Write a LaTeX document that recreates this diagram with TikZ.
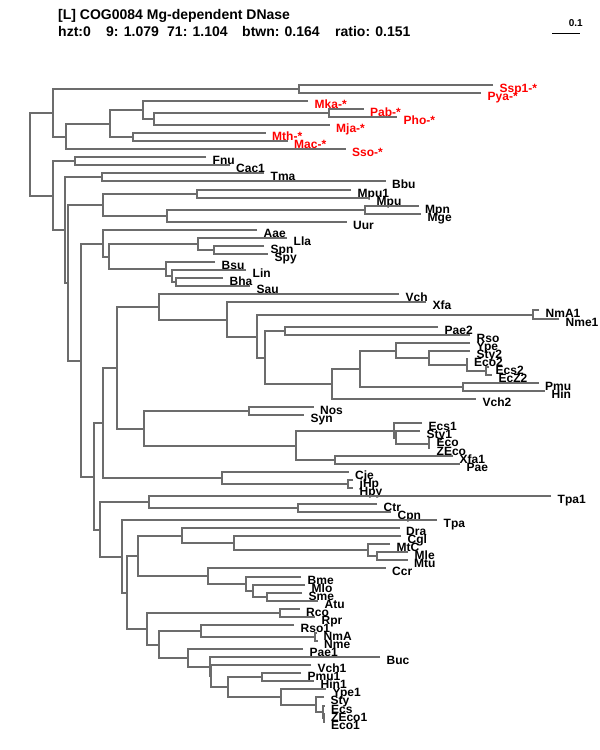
\documentclass[tikz,border=0pt]{standalone}
\usepackage{fontspec}
\setmainfont{Liberation Sans}
\usetikzlibrary{positioning, calc}
\definecolor{treegray}{HTML}{6C6C6C}
\definecolor{archred}{HTML}{FF0000}
\newcommand{\leafy}[1]{85.2+8.063*#1}
\tikzset{
  branch/.style={draw=treegray, line width=2pt},
  leaf/.style={font=\bfseries\fontsize{12}{12}\selectfont, inner sep=0pt, anchor=base west},
  archleaf/.style={leaf, text=archred},
  header/.style={font=\bfseries\fontsize{14}{16}\selectfont, inner sep=0pt, anchor=base west}
}

\begin{document}
\begin{tikzpicture}[x=1pt, y=-1pt]
  \fill[white] (0,0) rectangle (600,750);
  \useasboundingbox (0,0) rectangle (600,750);

  % header
  \node[header] (hdr) at (58,19) {[L] COG0084 Mg-dependent DNase};
  \node[header] (hzt) at (58,36) {hzt:0};
  \node[header] (s9) at (106,36) {9: 1.079};
  \node[header] (s71) at (167,36) {71: 1.104};
  \node[header] (btwn) at (242,36) {btwn: 0.164};
  \node[header] (ratio) at (335,36) {ratio: 0.151};

  % scale bar
  \coordinate (barL) at (552,33.5);
  \coordinate (barR) at (580,33.5);
  \draw[line width=1pt] (barL) -- (barR);
  \node[leaf, anchor=base east, font=\bfseries\fontsize{10}{12}\selectfont] (barlbl) at ([shift={(3,-7)}]barR) {0.1};

  % leaves: name/tip x/row/label
  \foreach \nd/\xx/\k/\txt in {ssp1/493/0/Ssp1-*, pya/481/1/Pya-*, mka/308/2/Mka-*,
      pab/363.5/3/Pab-*, pho/397/4/Pho-*, mja/329.5/5/Mja-*, mth/265.5/6/Mth-*,
      mac/287.5/7/Mac-*, sso/345.5/8/Sso-*}{
    \coordinate (\nd) at (\xx,{floor(\leafy{\k})});
    \node[archleaf] (\nd-lbl) at ([shift={(6.5,7)}]\nd) {\txt};
  }
  \foreach \nd/\xx/\k/\txt in {fnu/206/9/Fnu, cac1/229.5/10/Cac1, tma/264/11/Tma,
      bbu/385.5/12/Bbu, mpu1/351/13/Mpu1, mpu/370/14/Mpu, mpn/418.5/15/Mpn,
      mge/421/16/Mge, uur/346.5/17/Uur, aae/257/18/Aae, lla/287/19/Lla,
      spn/264/20/Spn, spy/268/21/Spy, bsu/215/22/Bsu, lin/246/23/Lin,
      bha/223/24/Bha, sau/250/25/Sau, vch/399/26/Vch, xfa/426/27/Xfa,
      nma1/539/28/NmA1, nme1/559/29/Nme1, pae2/438/30/Pae2, rso/470/31/Rso,
      ype/470/32/Ype, sty2/470/33/Sty2, eco2/467.5/34/Eco2, ecs2/489/35/Ecs2,
      ecz2/492/36/EcZ2, pmu/538.5/37/Pmu, hin/545/38/Hin, vch2/476/39/Vch2,
      nos/313.5/40/Nos, syn/304/41/Syn, ecs1/422/42/Ecs1, sty1/420/43/Sty1,
      eco/430/44/Eco, zeco/430/45/ZEco, xfa1/453/46/Xfa1, pae/460/47/Pae,
      cje/348.5/48/Cje, jhp/353/49/jHp, hpy/353/50/Hpy, tpa1/551/51/Tpa1,
      ctr/377/52/Ctr, cpn/391/53/Cpn, tpa/437/54/Tpa, dra/399.5/55/Dra,
      cgl/401/56/Cgl, mtc/390/57/MtC, mle/408/58/Mle, mtu/407.5/59/Mtu,
      ccr/385.5/60/Ccr, bme/301/61/Bme, mlo/305/62/Mlo, sme/302/63/Sme,
      atu/318/64/Atu, rco/299.5/65/Rco, rpr/315/66/Rpr, rso1/294/67/Rso1,
      nma/317/68/NmA, nme/317.5/69/Nme, pae1/303/70/Pae1, buc/380/71/Buc,
      vch1/311/72/Vch1, pmu1/301/73/Pmu1, hin1/314/74/Hin1, ype1/326/75/Ype1,
      sty/324/76/Sty, ecs/324.5/77/Ecs, zeco1/324.5/78/ZEco1, eco1/324.5/79/Eco1}{
    \coordinate (\nd) at (\xx,{floor(\leafy{\k})});
    \node[leaf] (\nd-lbl) at ([shift={(6.5,7)}]\nd) {\txt};
  }

  % inner nodes: name/x/upper child/lower child
  \foreach \nd/\xx/\ca/\cb in {nSP/299/ssp1/pya, nPP/329/pab/pho, nMj/154/nPP/mja,
      nMk/142.7/mka/nMj, nMm/132.7/mth/mac, nAr3/110/nMk/nMm, nAr2/66/nAr3/sso,
      nAr/52.7/nSP/nAr2,
      nFC/75/fnu/cac1, nTB/102/tma/bbu, nMP1/197.3/mpu1/mpu, nMM/365/mpn/mge,
      nUu/166.7/nMM/uur, nMy/102.7/nMP1/nUu, nSS/213.7/spn/spy, nLl/197.7/lla/nSS,
      nBS/175.7/bha/sau, nLi/171.7/lin/nBS, nBs/166/bsu/nLi, nFi/109/nLl/nBs,
      nAa/103.3/aae/nFi,
      nNN/533.3/nma1/nme1, nPR/285.3/pae2/rso, nEE/486/ecs2/ecz2, nE2/466.7/eco2/nEE,
      nS2/429.3/sty2/nE2, nYp/396/ype/nS2, nPH/463.3/pmu/hin, nEn/360.3/nYp/nPH,
      nV2/331.7/nEn/vch2, nPs/265/nPR/nV2, nNm/256.7/nNN/nPs, nXf/226.7/xfa/nNm,
      nVc/158.7/vch/nXf, nNS/249/nos/syn, nEZ/428.7/eco/zeco, nSt/395.5/sty1/nEZ,
      nE1/394.3/ecs1/nSt, nXP/335/xfa1/pae, nEX/295.7/nE1/nXP, nCy/143.7/nNS/nEX,
      nPb/117/nVc/nCy, nJH/347.5/jhp/hpy, nCj/222/cje/nJH, nEp/103.3/nPb/nCj,
      nCC/298.3/ctr/cpn, nTp/149/tpa1/nCC, nML/376.7/mle/mtu, nMt/368.3/mtc/nML,
      nCg/234/cgl/nMt, nDr/181.7/dra/nCg, nSA/266.7/sme/atu, nMl/252.7/mlo/nSA,
      nBm/245.7/bme/nMl, nCr/207.7/ccr/nBm, nAc/138.3/nDr/nCr, nRR/280/rco/rpr,
      nNM/315/nma/nme, nRs/201/rso1/nNM, nPM/262.3/pmu1/hin1, nZE/323.6/zeco1/eco1,
      nEc/323.3/ecs/nZE, nSy/315.7/sty/nEc, nYe/281/ype1/nSy, nPY/228.3/nPM/nYe,
      nVh/211.3/vch1/nPY, nBu/210/buc/nVh, nPa/188.3/pae1/nBu, nGa/159/nRs/nPa,
      nAl/146.7/nRR/nGa, nPt/127.3/nAc/nAl, nTa/122.3/tpa/nPt, nCh/100/nTp/nTa,
      nGn/93.7/nEp/nCh, nBa3/81/nAa/nGn, nBa2/68.3/nMy/nBa3, nBa1/64.5/nTB/nBa2,
      nBa/52.7/nFC/nBa1, root/30/nAr/nBa}{
    \path let \p1=($(\ca)!.5!(\cb)$) in
      coordinate (\nd) at ({round(\xx)*1pt},{-round(-(\y1))*1pt});
    \draw[branch] (\ca) -| (\nd) |- (\cb);
  }
\end{tikzpicture}
\end{document}
